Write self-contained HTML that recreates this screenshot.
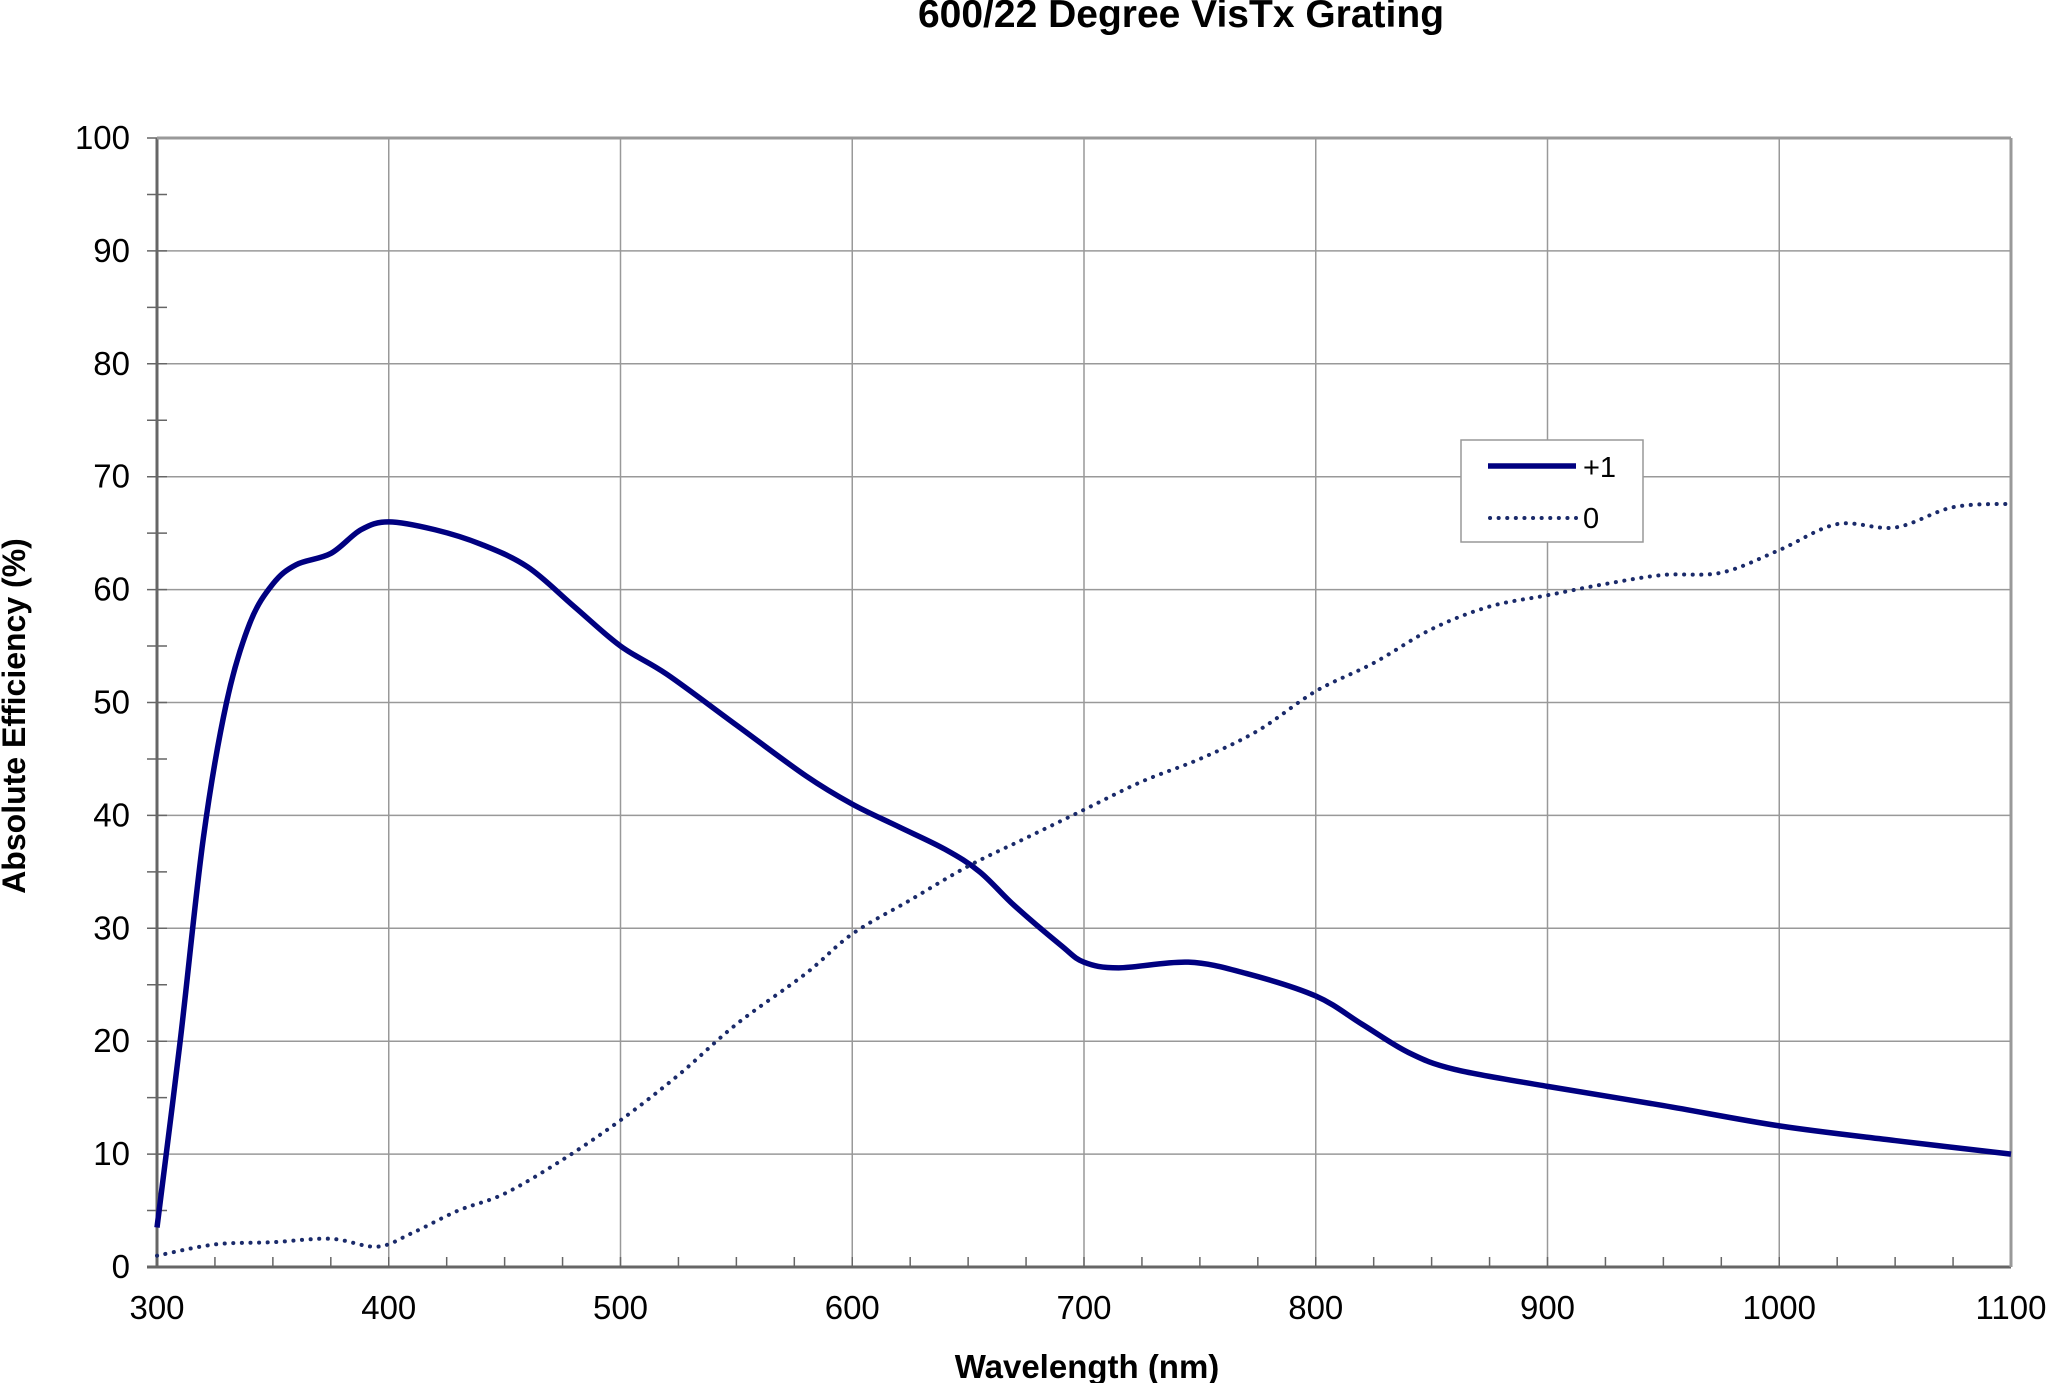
<!DOCTYPE html>
<html><head><style>body{margin:0;background:#fff}svg{display:block}text{font-family:"Liberation Sans",Arial,sans-serif}</style></head>
<body>
<svg id="s" width="2048" height="1383" xmlns="http://www.w3.org/2000/svg">
<g id="grid"></g>
<text x="1181" y="27" font-size="39" font-weight="bold" text-anchor="middle">600/22 Degree VisTx Grating</text>
<text x="1087" y="1378" font-size="33" font-weight="bold" text-anchor="middle">Wavelength (nm)</text>
<text transform="translate(25,716) rotate(-90)" font-size="32" font-weight="bold" text-anchor="middle">Absolute Efficiency (%)</text>
<path id="p1" fill="none" stroke="#000080" stroke-width="5.5"/>
<path id="p0" fill="none" stroke="#1a2a6a" stroke-width="4" stroke-dasharray="0.1 8.5" stroke-linecap="round"/>
<rect x="1461" y="440" width="182" height="102" fill="#fff" stroke="#999" stroke-width="1.5"/>
<line x1="1488" y1="466" x2="1576" y2="466" stroke="#000080" stroke-width="5.5"/>
<text x="1583" y="477" font-size="29">+1</text>
<line x1="1490" y1="518" x2="1576" y2="518" stroke="#1a2a6a" stroke-width="4" stroke-dasharray="0.1 8.5" stroke-linecap="round"/>
<text x="1583" y="528" font-size="29">0</text>
</svg>
<script>
const X0=157,X1=2011,Y0=1267,Y1=138;
const fx=w=>X0+(w-300)/800*(X1-X0), fy=v=>Y0-v/100*(Y0-Y1);
let g='';
for(let i=0;i<=8;i++){const x=fx(300+i*100);g+=`<line x1="${x}" y1="${Y1}" x2="${x}" y2="${Y0}" stroke="#999" stroke-width="1.5"/>`;
g+=`<text x="${x}" y="${Y0+52}" font-size="33" text-anchor="middle">${300+i*100}</text>`;}
for(let i=0;i<=10;i++){const y=fy(i*10);g+=`<line x1="${X0}" y1="${y}" x2="${X1}" y2="${y}" stroke="#999" stroke-width="1.5"/>`;
g+=`<text x="${X0-27}" y="${y+11}" font-size="33" text-anchor="end">${i*10}</text>`;}
for(let i=0;i<=32;i++){const x=fx(300+i*25);g+=`<line x1="${x}" y1="${Y0-10}" x2="${x}" y2="${Y0}" stroke="#666" stroke-width="1.5"/>`;}
for(let i=0;i<=20;i++){const y=fy(i*5);g+=`<line x1="${X0-10}" y1="${y}" x2="${X0+10}" y2="${y}" stroke="#666" stroke-width="1.5"/>`;}
g+=`<line x1="${X0}" y1="${Y1}" x2="${X0}" y2="${Y0}" stroke="#666" stroke-width="3"/><line x1="${X0-10}" y1="${Y0}" x2="${X1}" y2="${Y0}" stroke="#666" stroke-width="3"/><line x1="${X1}" y1="${Y1}" x2="${X1}" y2="${Y0}" stroke="#999" stroke-width="3"/><line x1="${X0}" y1="${Y1}" x2="${X1}" y2="${Y1}" stroke="#999" stroke-width="3"/>`;
document.getElementById('grid').innerHTML=g;
function path(d){const p=d.map(([w,v])=>[fx(w),fy(v)]);let s=`M${p[0][0]},${p[0][1]}`;
for(let i=0;i<p.length-1;i++){const a=p[Math.max(0,i-1)],b=p[i],c=p[i+1],e=p[Math.min(p.length-1,i+2)];
s+=` C${b[0]+(c[0]-a[0])/6},${b[1]+(c[1]-a[1])/6} ${c[0]-(e[0]-b[0])/6},${c[1]-(e[1]-b[1])/6} ${c[0]},${c[1]}`;}return s;}
const d1=[[300,3.5],[310,20],[320,38],[330,50],[340,57],[350,60.5],[360,62.2],[375,63.2],[388,65.3],[400,66],[420,65.3],[440,64],[460,62],[480,58.5],[500,55],[520,52.5],[550,48],[580,43.5],[600,41],[620,39],[640,37],[655,35],[670,32],[690,28.5],[700,27],[715,26.5],[745,27],[770,26],[800,24],[820,21.5],[840,19],[860,17.5],[900,16],[950,14.3],[1000,12.5],[1050,11.2],[1100,10]];
const d0=[[300,1],[325,2],[350,2.2],[375,2.5],[395,1.8],[410,3],[430,5],[450,6.5],[475,9.5],[500,13],[525,17],[550,21.5],[580,26],[600,29.5],[625,32.5],[650,35.5],[675,38],[700,40.5],[725,43],[750,45],[775,47.5],[800,51],[825,53.5],[850,56.5],[875,58.5],[900,59.5],[925,60.5],[950,61.3],[975,61.5],[1000,63.5],[1025,65.8],[1050,65.5],[1075,67.3],[1100,67.6]];
document.getElementById('p1').setAttribute('d',path(d1));
document.getElementById('p0').setAttribute('d',path(d0));
</script>
</body></html>
